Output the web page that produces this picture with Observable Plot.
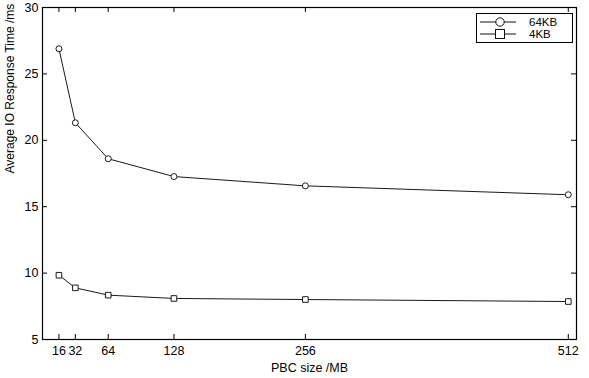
<!DOCTYPE html>
<html>
<head>
<meta charset="utf-8">
<script src="https://cdn.jsdelivr.net/npm/d3@7"></script>
<script src="https://cdn.jsdelivr.net/npm/@observablehq/plot@0.6"></script>
<style>
  body { margin: 0; background: #fff; font-family: Arial, "Liberation Sans", sans-serif; }
  #wrap { position: relative; width: 589px; height: 378px; }
  #legend { position: absolute; left: 476px; top: 13px; width: 95px; height: 28px; border: 1px solid #000; background: #fff; font-size: 11.5px; line-height: 12px; }
  #legend .row { position: absolute; left: 3px; height: 12px; display: flex; align-items: center; }
  #legend svg { display: block; }
  #legend span { margin-left: 13px; line-height: 12px; }
</style>
</head>
<body>
<div id="wrap"></div>
<script>
const pbcSizes = [16, 32, 64, 128, 256, 512];
const series64KB = [26.89, 21.32, 18.61, 17.27, 16.57, 15.90];
const series4KB = [9.84, 8.89, 8.34, 8.09, 8.01, 7.86];
const xTicks = [16, 32, 64, 128, 256, 512];
const yTicks = [5, 10, 15, 20, 25, 30];
const seriesNames = ["64KB", "4KB"];

const data = [];
pbcSizes.forEach((x, i) => {
  data.push({series: "64KB", x, y: series64KB[i]});
  data.push({series: "4KB", x, y: series4KB[i]});
});

const W = 589, H = 378;
const mL = 42, mR = 13, mT = 7, mB = 39;
const pw = W - mL - mR, ph = H - mT - mB;
const tk = 5;

const chart = Plot.plot({
  width: W, height: H,
  marginLeft: mL, marginRight: mR, marginTop: mT, marginBottom: mB,
  style: {fontFamily: "Arial, 'Liberation Sans', sans-serif", fontSize: "12.5px", color: "#000", background: "#fff"},
  x: {domain: [0, 520]},
  y: {domain: [5, 30]},
  symbol: {domain: seriesNames, range: ["circle", "square"]},
  marks: [
    // inward ticks
    Plot.tickY(yTicks, {y: d => d, insetRight: pw - tk, stroke: "#000"}),
    Plot.tickY(yTicks, {y: d => d, insetLeft: pw - tk, stroke: "#000"}),
    Plot.tickX(xTicks, {x: d => d, insetTop: ph - tk, stroke: "#000"}),
    Plot.tickX(xTicks, {x: d => d, insetBottom: ph - tk, stroke: "#000"}),
    Plot.axisY({ticks: yTicks, tickSize: 0, tickPadding: 4, label: null, fontSize: 12.5}),
    Plot.axisX({ticks: xTicks, tickSize: 0, tickPadding: 7, label: null, fontSize: 12.5}),
    Plot.text(["Average IO Response Time /ms"], {frameAnchor: "left", rotate: -90, dx: -32, fontSize: 12, fill: "#000"}),
    Plot.text(["PBC size /MB"], {frameAnchor: "bottom", dy: 32, fontSize: 12.5, fill: "#000"}),
    Plot.frame({stroke: "#000", strokeWidth: 1.2}),
    Plot.line(data, {x: "x", y: "y", z: "series", stroke: "#1a1a1a", strokeWidth: 1}),
    Plot.dot(data, {x: "x", y: "y", symbol: "series", r: d => d.series === "64KB" ? 4.6 : 5.1, fill: "#fff", stroke: "#1a1a1a", strokeWidth: 1})
  ]
});
document.getElementById("wrap").appendChild(chart);

// legend
const legend = document.createElement("div");
legend.id = "legend";
const rowTops = [2, 14];
seriesNames.forEach((name, i) => {
  const row = document.createElement("div");
  row.className = "row";
  row.style.top = rowTops[i] + "px";
  const marker = i === 0
    ? '<circle cx="20" cy="6" r="4.2" fill="#fff" stroke="#111"/>'
    : '<rect x="15.5" y="1.5" width="9" height="9" fill="#fff" stroke="#111"/>';
  row.innerHTML = `<svg width="36" height="12"><line x1="0" x2="36" y1="6" y2="6" stroke="#111"/>${marker}</svg><span>${name}</span>`;
  legend.appendChild(row);
});
document.getElementById("wrap").appendChild(legend);
</script>
</body>
</html>
